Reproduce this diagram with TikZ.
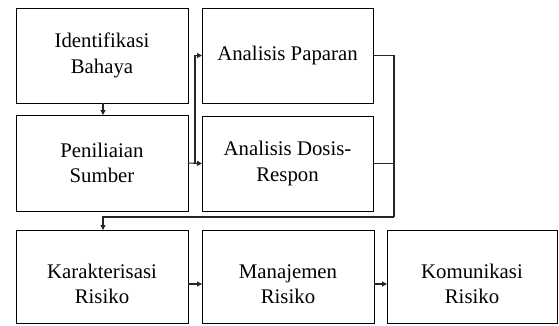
\documentclass[tikz,border=0pt]{standalone}
\usepackage{fontspec}
\setmainfont{Liberation Serif}
\usetikzlibrary{arrows.meta}
\begin{document}
\begin{tikzpicture}[x=1pt,y=-1pt,
  boxnode/.style={draw=black,line width=0.9pt,minimum width=#1,inner sep=0pt,outer sep=0pt},
  boxnode/.default=172pt,
  txt/.style={align=center,font=\rmfamily\fontsize{20.8}{25.5}\selectfont,inner sep=0pt},
  conn/.style={draw=black!85,line width=1.1pt},
  arr/.style={conn,-{Triangle[length=5pt,width=5pt]}}]
\useasboundingbox (0,0) rectangle (559,325);
% boxes
\node[boxnode,minimum height=95pt] (b1) at (102,55.5) {};
\node[txt] (t1) at (b1.center) {Identifikasi\\Bahaya};
\node[boxnode,minimum height=96pt] (b2) at (102,163) {};
\node[txt] (t2) at (b2.center) {Peniliaian\\Sumber};
\node[boxnode,minimum height=95pt,minimum width=171pt] (b3) at (287.5,55.5) {};
\node[txt] (t3) at (b3.center) {Analisis Paparan};
\node[boxnode,minimum height=95pt,minimum width=171pt] (b4) at (287.5,163.5) {};
\node[txt] (t4) at (b4.center) {Analisis Dosis-\\Respon};
\node[boxnode,minimum height=93pt] (b5) at (102,276.5) {};
\node[txt] (t5) at (102,284) {Karakterisasi\\Risiko};
\node[boxnode,minimum height=93pt] (b6) at (288,276.5) {};
\node[txt] (t6) at (288,284) {Manajemen\\Risiko};
\node[boxnode,minimum height=93pt,minimum width=170pt] (b7) at (472,276.5) {};
\node[txt] (t7) at (472,284) {Komunikasi\\Risiko};
% helper coordinates
\coordinate (split) at (195,163);
\coordinate (busR) at (394,217);
\coordinate (busL) at (103,217);
% connectors
\draw[arr] (b1.south -| busL) -- (b2.north -| busL);
\draw[arr] (b2.east) -- (b4.west);
\draw[arr] (split) -- (split |- b3.west) -- (b3.west);
\draw[conn] (b3.east) -| (busR);
\draw[conn] (b4.east) -| (busR);
\draw[arr] (busR) -- (busL) -- (busL |- b5.north);
\draw[arr] (b5.east |- t5) -- (b6.west |- t6);
\draw[arr] (b6.east |- t6) -- (b7.west |- t7);
\end{tikzpicture}
\end{document}
